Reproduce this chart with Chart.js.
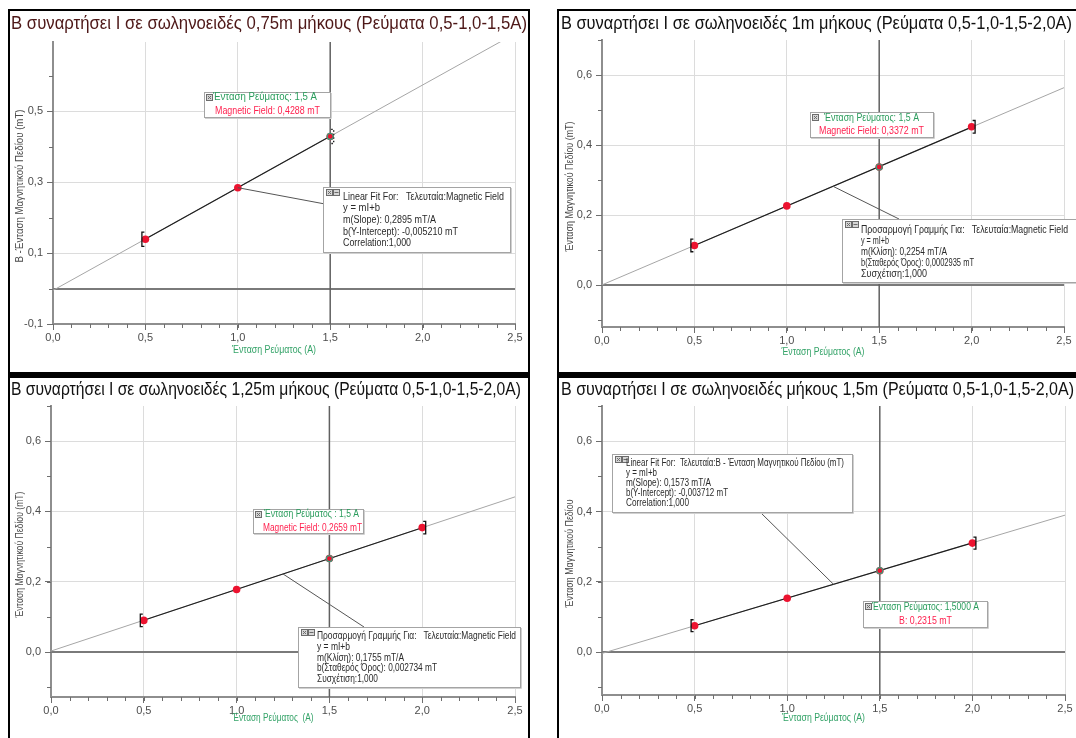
<!DOCTYPE html>
<html>
<head>
<meta charset="utf-8">
<script src="https://cdn.jsdelivr.net/npm/chart.js@4.4.0/dist/chart.umd.min.js"></script>
<style>
  html, body { margin: 0; padding: 0; background: #fff; }
  body { width: 1076px; height: 738px; position: relative; overflow: hidden; }
  .frame { position: absolute; border: 2px solid #000; background: #fff; box-sizing: border-box; }
  canvas { position: absolute; }
</style>
</head>
<body>
<div class="frame" style="left:8px;top:9px;width:522px;height:367px;border-bottom-width:4px"></div>
<div class="frame" style="left:557px;top:9px;width:540px;height:367px;border-bottom-width:4px"></div>
<div class="frame" style="left:8px;top:376px;width:522px;height:380px"></div>
<div class="frame" style="left:557px;top:376px;width:540px;height:380px"></div>
<canvas id="c1" width="518" height="360" style="left:10px;top:11px"></canvas>
<canvas id="c2" width="515" height="360" style="left:561px;top:11px"></canvas>
<canvas id="c3" width="518" height="358" style="left:10px;top:378px"></canvas>
<canvas id="c4" width="515" height="358" style="left:561px;top:378px"></canvas>
<script>
// ===== DATA =====
const currentA = [0.5, 1.0, 1.5, 2.0];
const fieldP1 = [0.139, 0.284, 0.4288];
const fieldP2 = [0.113, 0.226, 0.3372, 0.452];
const fieldP3 = [0.090, 0.178, 0.2659, 0.354];
const fieldP4 = [0.075, 0.153, 0.2315, 0.310];
const errP1 = [0.02, 0, 0.02];
const errP2 = [0.018, 0, 0, 0.018];
const errP3 = [0.018, 0, 0, 0.018];
const errP4 = [0.017, 0, 0, 0.017];
const slopes = [0.2895, 0.2254, 0.1755, 0.1573];
const intercepts = [-0.005210, 0.0002935, 0.002734, -0.003712];
const cursorA = 1.5;
const xTickValues = [0, 0.5, 1.0, 1.5, 2.0, 2.5];
const yTickValuesP1 = [-0.1, 0.1, 0.3, 0.5];
const yTickValues = [0, 0.2, 0.4, 0.6];

const titles = [
  'Β συναρτήσει Ι σε σωληνοειδές 0,75m μήκους (Ρεύματα 0,5-1,0-1,5Α)',
  'Β συναρτήσει Ι σε σωληνοειδές 1m μήκους (Ρεύματα 0,5-1,0-1,5-2,0Α)',
  'Β συναρτήσει Ι σε σωληνοειδές 1,25m μήκους (Ρεύματα 0,5-1,0-1,5-2,0Α)',
  'Β συναρτήσει Ι σε σωληνοειδές μήκους 1,5m (Ρεύματα 0,5-1,0-1,5-2,0Α)'
];
const yTitles = [
  'B -Ένταση Μαγνητικού Πεδίου (mT)',
  'Ένταση Μαγνητικού Πεδίου (mT)',
  'Ένταση Μαγνητικού Πεδίου (mT)',
  'Ένταση Μαγνητικού Πεδίου'
];
const xTitles = ['Ένταση Ρεύματος (A)', 'Ένταση Ρεύματος (A)', 'Ένταση Ρεύματος  (A)', 'Ένταση Ρεύματος (A)'];
const cursorTexts = [
  ['Ένταση Ρεύματος: 1,5 A', 'Magnetic Field: 0,4288 mT'],
  ['Ένταση Ρεύματος: 1,5 A', 'Magnetic Field: 0,3372 mT'],
  ['Ένταση Ρεύματος : 1,5 A', 'Magnetic Field: 0,2659 mT'],
  ['Ένταση Ρεύματος: 1,5000 A', 'B: 0,2315 mT']
];
const fitTexts = [
  ['Linear Fit For:   Τελευταία:Magnetic Field', 'y = mI+b', 'm(Slope): 0,2895 mT/A', 'b(Y-Intercept): -0,005210 mT', 'Correlation:1,000'],
  ['Προσαρμογή Γραμμής Για:   Τελευταία:Magnetic Field', 'y = mI+b', 'm(Κλίση): 0,2254 mT/A', 'b(Σταθερός Όρος): 0,0002935 mT', 'Συσχέτιση:1,000'],
  ['Προσαρμογή Γραμμής Για:   Τελευταία:Magnetic Field', 'y = mI+b', 'm(Κλίση): 0,1755 mT/A', 'b(Σταθερός Όρος): 0,002734 mT', 'Συσχέτιση:1,000'],
  ['Linear Fit For:  Τελευταία:B - Ένταση Μαγνητικού Πεδίου (mT)', 'y = mI+b', 'm(Slope): 0,1573 mT/A', 'b(Y-Intercept): -0,003712 mT', 'Correlation:1,000']
];

// ===== LAYOUT (canvas pixels) =====
const FONT = '"Liberation Sans", Arial, sans-serif';
const TICKFONT = '"Liberation Sans Narrow", "Arial Narrow", "Liberation Sans", Arial, sans-serif';
const panels = [
  { id: 'c1', field: fieldP1, err: errP1, yTicks: yTickValuesP1, ymin: -0.1, ymax: 0.695,
    left: 43, right: 505, top: 31, bottom: 313, dashLast: true,
    title: { x: 1, y: 13, w: 516, color: '#4e1818' }, yt: { x: 10, w: 153 }, xt: { y: 339, w: 84 },
    cur: { box: [194, 81, 126, 25], g: [203, 86, 104], r: [205, 100, 105] },
    fit: { box: [313, 176, 187, 65], tx: 333, ys: [186, 197, 209, 221, 232], ws: [161, 37, 93, 115, 68], size: 11, anchor: [315, 193] } },
  { id: 'c2', field: fieldP2, err: errP2, yTicks: yTickValues, ymin: -0.12, ymax: 0.7,
    left: 41, right: 503, top: 29, bottom: 316,
    title: { x: 0, y: 13, w: 511, color: '#111' }, yt: { x: 9, w: 130 }, xt: { y: 341, w: 83 },
    cur: { box: [249, 101, 123, 25], g: [263, 107, 95], r: [258, 120, 105] },
    fit: { box: [281, 208, 240, 63], tx: 300, ys: [219, 230, 241, 252, 263], ws: [207, 28, 86, 113, 66], size: 11, anchor: [338, 208] } },
  { id: 'c3', field: fieldP3, err: errP3, yTicks: yTickValues, ymin: -0.128, ymax: 0.7,
    left: 41, right: 505, top: 28, bottom: 319,
    title: { x: 1, y: 12, w: 510, color: '#111' }, yt: { x: 10, w: 126 }, xt: { y: 340, w: 81 },
    cur: { box: [243, 131, 110, 24], g: [254, 136, 95], r: [253, 150, 99] },
    fit: { box: [288, 249, 222, 60], tx: 307, ys: [258, 269, 280, 290, 301], ws: [199, 33, 87, 120, 61], size: 11, anchor: [354, 249] } },
  { id: 'c4', field: fieldP4, err: errP4, yTicks: yTickValues, ymin: -0.122, ymax: 0.7,
    left: 41, right: 504, top: 28, bottom: 317,
    title: { x: 0, y: 12, w: 513, color: '#111' }, yt: { x: 9, w: 108 }, xt: { y: 340, w: 83 },
    cur: { box: [302, 223, 124, 26], g: [311, 229, 107], r: [338, 243, 53] },
    fit: { box: [51, 76, 240, 58], tx: 65, ys: [85, 95, 105, 115, 125], ws: [218, 31, 85, 102, 63], size: 10, anchor: [199, 134] } }
];

const fmt = v => v.toFixed(1).replace('.', ',');

function fitLine(i, x0, x1) {
  return [x0, x1].map(x => ({ x: x, y: slopes[i] * x + intercepts[i] }));
}

// draw text squeezed to a target width
function squeeze(ctx, s, x, y, w, size, color) {
  ctx.save();
  ctx.font = size + 'px ' + FONT;
  ctx.fillStyle = color;
  ctx.textBaseline = 'middle';
  ctx.textAlign = 'left';
  const m = ctx.measureText(s).width;
  ctx.translate(x, y);
  ctx.scale(w / m, 1);
  ctx.fillText(s, 0, 0);
  ctx.restore();
}

function iconBox(ctx, x, y, minus) {
  ctx.fillStyle = '#d6d6d6';
  ctx.fillRect(x, y, 7, 7);
  ctx.strokeStyle = '#6c6c6c';
  ctx.lineWidth = 1;
  ctx.strokeRect(x + 0.5, y + 0.5, 6, 6);
  ctx.beginPath();
  if (minus) {
    ctx.moveTo(x + 1.5, y + 3.5); ctx.lineTo(x + 5.5, y + 3.5);
  } else {
    ctx.moveTo(x + 2, y + 2); ctx.lineTo(x + 5, y + 5);
    ctx.moveTo(x + 5, y + 2); ctx.lineTo(x + 2, y + 5);
  }
  ctx.stroke();
}

function panelBox(ctx, b) {
  ctx.fillStyle = '#fff';
  ctx.fillRect(b[0], b[1], b[2], b[3]);
  ctx.strokeStyle = '#d0d0d0';
  ctx.lineWidth = 1;
  ctx.beginPath();
  ctx.moveTo(b[0] + b[2] + 1.5, b[1] + 1); ctx.lineTo(b[0] + b[2] + 1.5, b[1] + b[3] + 1.5);
  ctx.lineTo(b[0] + 1, b[1] + b[3] + 1.5);
  ctx.stroke();
  ctx.strokeStyle = '#a4a4a4';
  ctx.strokeRect(b[0] + 0.5, b[1] + 0.5, b[2], b[3]);
}

const decor = {
  id: 'decor',
  beforeDatasetsDraw(chart, args, o) {
    const { ctx, chartArea: a, scales: { x, y } } = chart;
    ctx.save();
    ctx.strokeStyle = '#7a7a7a';
    ctx.lineWidth = 2;
    const y0 = Math.round(y.getPixelForValue(0));
    ctx.beginPath(); ctx.moveTo(a.left, y0); ctx.lineTo(a.right, y0); ctx.stroke();
    ctx.strokeStyle = '#606060';
    ctx.lineWidth = 1.5;
    const xc = x.getPixelForValue(cursorA);
    ctx.beginPath(); ctx.moveTo(xc, a.top); ctx.lineTo(xc, a.bottom); ctx.stroke();
    ctx.restore();
  },
  afterDatasetsDraw(chart, args, o) {
    const { ctx, scales: { x, y } } = chart;
    const p = o.p;
    ctx.save();
    ctx.strokeStyle = '#111';
    ctx.lineWidth = 1.3;
    p.err.forEach((e, k) => {
      if (!e) return;
      const px = x.getPixelForValue(currentA[k]);
      const t = y.getPixelForValue(p.field[k] + e);
      const b = y.getPixelForValue(p.field[k] - e);
      const side = k === 0 ? -1 : 1;
      const vx = px + side * 3.5;
      ctx.setLineDash(p.dashLast && k > 0 ? [1.5, 2] : []);
      ctx.beginPath();
      ctx.moveTo(vx - side * 2.5, t); ctx.lineTo(vx, t); ctx.lineTo(vx, b); ctx.lineTo(vx - side * 2.5, b);
      ctx.stroke();
    });
    ctx.setLineDash([]);
    // examine cursor marker
    const k = currentA.indexOf(cursorA);
    const cx = x.getPixelForValue(cursorA), cy = y.getPixelForValue(p.field[k]);
    ctx.strokeStyle = '#3c9c7c';
    ctx.lineWidth = 1.2;
    ctx.beginPath(); ctx.arc(cx, cy, 3, 0, Math.PI * 2); ctx.stroke();
    ctx.restore();
  },
  afterDraw(chart, args, o) {
    const { ctx, chartArea: a, scales: { x, y } } = chart;
    const p = o.p, i = o.i;
    ctx.save();
    // minor ticks every 0.1
    ctx.strokeStyle = '#6e6e6e';
    ctx.lineWidth = 1;
    ctx.beginPath();
    for (let k = 0; k <= 25; k++) {
      const px = Math.round(x.getPixelForValue(k / 10)) + 0.5;
      ctx.moveTo(px, a.bottom); ctx.lineTo(px, a.bottom + 4);
    }
    for (let k = Math.ceil(p.ymin * 10 - 1e-9); k <= Math.floor(p.ymax * 10 + 1e-9); k++) {
      const py = Math.round(y.getPixelForValue(k / 10)) + 0.5;
      ctx.moveTo(a.left - 4, py); ctx.lineTo(a.left, py);
    }
    ctx.stroke();

    // chart title
    squeeze(ctx, titles[i], p.title.x, p.title.y, p.title.w, 18, p.title.color);
    // axis titles
    const xcen = (a.left + a.right) / 2 - 10;
    squeeze(ctx, xTitles[i], xcen - p.xt.w / 2, p.xt.y, p.xt.w, 11, '#34a368');
    ctx.save();
    ctx.translate(p.yt.x, (a.top + a.bottom) / 2 + 3);
    ctx.rotate(-Math.PI / 2);
    squeeze(ctx, yTitles[i], -p.yt.w / 2, 0, p.yt.w, 11, '#4a4a4a');
    ctx.restore();

    // fit connector
    const f = p.fit;
    const xs = currentA.slice(0, p.field.length);
    const xm = (xs[0] + xs[xs.length - 1]) / 2;
    ctx.strokeStyle = '#555';
    ctx.lineWidth = 1;
    ctx.beginPath();
    ctx.moveTo(x.getPixelForValue(xm), y.getPixelForValue(slopes[i] * xm + intercepts[i]));
    ctx.lineTo(f.anchor[0], f.anchor[1]);
    ctx.stroke();

    // fit box
    panelBox(ctx, f.box);
    iconBox(ctx, f.box[0] + 3, f.box[1] + 2, false);
    iconBox(ctx, f.box[0] + 10, f.box[1] + 2, true);
    fitTexts[i].forEach((s, k) => squeeze(ctx, s, f.tx, f.ys[k], f.ws[k], f.size, '#2a2a2a'));

    // examine box
    const c = p.cur;
    panelBox(ctx, c.box);
    iconBox(ctx, c.box[0] + 2, c.box[1] + 2, false);
    squeeze(ctx, cursorTexts[i][0], c.g[0], c.g[1], c.g[2], 11, '#2a9c5c');
    squeeze(ctx, cursorTexts[i][1], c.r[0], c.r[1], c.r[2], 11, '#ff1f4d');
    ctx.restore();
  }
};

function makeChart(p, i) {
  const canvas = document.getElementById(p.id);
  const W = canvas.width, H = canvas.height;
  const xs = currentA.slice(0, p.field.length);
  return new Chart(canvas, {
    type: 'scatter',
    data: {
      datasets: [
        { type: 'scatter', data: xs.map((v, k) => ({ x: v, y: p.field[k] })),
          pointRadius: 3.8, pointHoverRadius: 3.8, pointBackgroundColor: '#ec1330', pointBorderWidth: 0, order: 0 },
        { type: 'line', data: fitLine(i, xs[0], xs[xs.length - 1]),
          borderColor: '#1e1e1e', borderWidth: 1.2, pointRadius: 0, order: 1 },
        { type: 'line', data: fitLine(i, 0, 2.5),
          borderColor: '#a6a6a6', borderWidth: 1, pointRadius: 0, order: 2 }
      ]
    },
    options: {
      responsive: false,
      animation: false,
      events: [],
      layout: { padding: { top: p.top, right: W - p.right, left: 0, bottom: 0 } },
      plugins: {
        legend: { display: false },
        tooltip: { enabled: false },
        decor: { p: p, i: i }
      },
      scales: {
        x: {
          type: 'linear', min: 0, max: 2.5,
          afterBuildTicks: s => { s.ticks = xTickValues.map(v => ({ value: v })); },
          afterFit: s => { s.height = H - p.bottom; },
          ticks: { callback: v => fmt(v), font: { family: TICKFONT, size: 11 }, color: '#4d4d4d', padding: 1, maxRotation: 0, autoSkip: false },
          grid: { color: c => (c.tick && c.tick.value === cursorA) ? 'rgba(0,0,0,0)' : '#dcdcdc', lineWidth: 1, tickLength: 6, tickColor: '#6e6e6e' },
          border: { color: '#8e8e8e', width: 2 }
        },
        y: {
          type: 'linear', min: p.ymin, max: p.ymax,
          afterBuildTicks: s => { s.ticks = p.yTicks.map(v => ({ value: v })); },
          afterFit: s => { s.width = p.left; },
          ticks: { callback: v => fmt(v), font: { family: TICKFONT, size: 11 }, color: '#4d4d4d', padding: 4, autoSkip: false },
          grid: { color: c => (c.tick && c.tick.value === 0) ? 'rgba(0,0,0,0)' : '#dcdcdc', lineWidth: 1, tickLength: 6, tickColor: '#6e6e6e' },
          border: { color: '#8e8e8e', width: 2 }
        }
      }
    },
    plugins: [decor]
  });
}

panels.forEach(makeChart);
</script>
</body>
</html>
